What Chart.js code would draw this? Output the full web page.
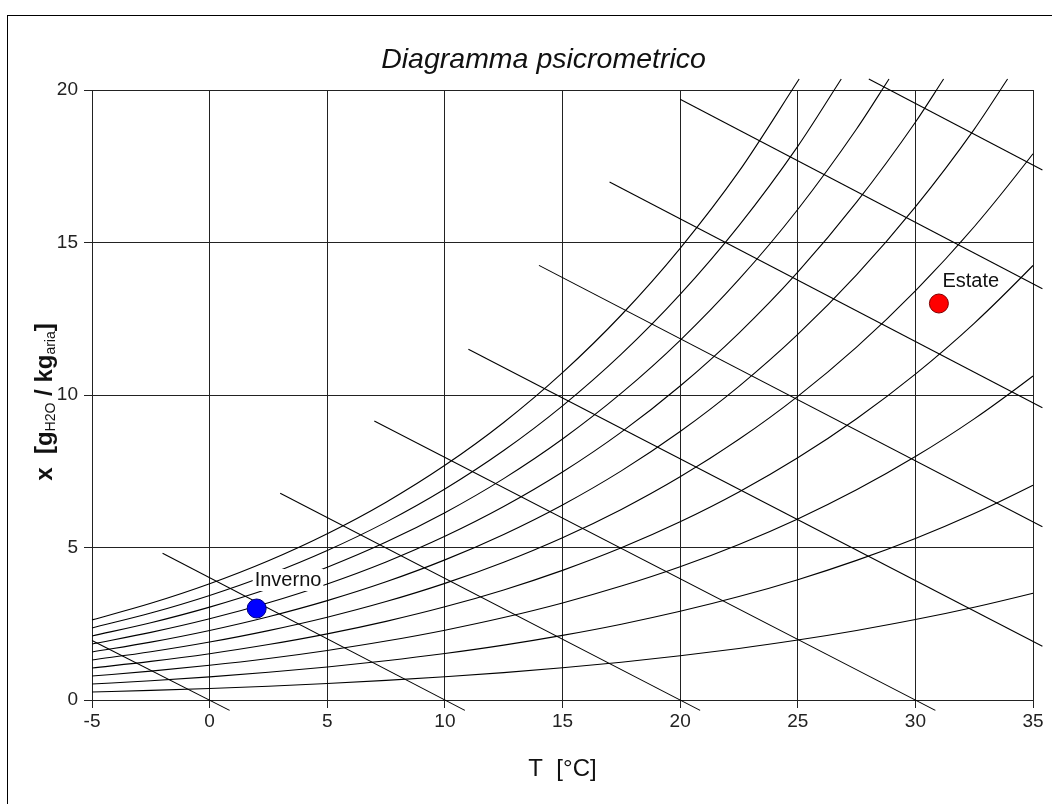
<!DOCTYPE html>
<html><head><meta charset="utf-8">
<script src="https://cdn.jsdelivr.net/npm/chart.js@4.4.1/dist/chart.umd.min.js"></script>
<style>html,body{margin:0;padding:0;background:#fff;}#wrap{width:1052px;height:804px;}</style>
</head><body><div id="wrap"><canvas id="c" width="1052" height="804"></canvas></div>
<script>
// ---- data ----
const tempGrid = [-5,-2.5,0,2.5,5,7.5,10,12.5,15,17.5,20,22.5,25,27.5,30,32.5,35,35.4];
const rh10 = [0.262,0.315,0.379,0.453,0.541,0.642,0.762,0.898,1.057,1.240,1.450,1.691,1.966,2.281,2.638,3.043,3.502,3.581];
const rh20 = [0.523,0.631,0.759,0.908,1.083,1.287,1.524,1.799,2.118,2.485,2.907,3.391,3.945,4.578,5.298,6.116,7.044,7.203];
const rh30 = [0.786,0.947,1.138,1.362,1.625,1.932,2.289,2.703,3.182,3.735,4.370,5.101,5.937,6.892,7.981,9.218,10.624,10.867];
const rh40 = [1.048,1.265,1.519,1.818,2.169,2.579,3.055,3.609,4.250,4.989,5.841,6.819,7.941,9.223,10.686,12.351,14.246,14.573];
const rh50 = [1.311,1.581,1.900,2.275,2.714,3.227,3.824,4.518,5.321,6.249,7.318,8.547,9.957,11.572,13.415,15.516,17.909,18.322];
const rh60 = [1.574,1.898,2.281,2.731,3.259,3.876,4.594,5.429,6.396,7.513,8.802,10.284,11.986,13.937,16.167,18.711];
const rh70 = [1.836,2.216,2.662,3.189,3.806,4.527,5.367,6.343,7.475,8.783,10.294,12.031,14.028,16.321,18.943];
const rh80 = [2.100,2.533,3.045,3.647,4.353,5.178,6.141,7.259,8.557,10.059,11.792,13.788,16.083,18.721];
const rh90 = [2.363,2.851,3.428,4.106,4.902,5.832,6.917,8.178,9.643,11.338,13.297,15.554,18.153];
const rh100 = [2.627,3.170,3.811,4.565,5.451,6.486,7.695,9.100,10.733,12.623,14.809,17.330];
// end points of the curves that leave through the top
const rhTopT = [null,null,null,null,null,33.92,31.2,28.88,26.85,25.06];
const rhTopX = 20.36;

const enthalpyLevels = [0,10,20,30,40,50,60,70,80];
const enthStartT = [-5,-2,3,7,11,14,17,20,28.02];
const enthStartX = [1.95,4.81,6.78,9.15,11.50,14.25,16.98,19.70,20.36];
const enthEndT = [0.85,10.85,20.85,30.85,35.4,35.4,35.4,35.4,35.4];
const enthEndX = [-0.34,-0.34,-0.34,-0.34,1.76,5.68,9.58,13.48,17.38];

const pointNames = ['Inverno','Estate'];
const pointT = [2,31];
const pointX = [3,13];

const xTicks = [-5,0,5,10,15,20,25,30,35];
const yTicks = [0,5,10,15,20];

// ---- build datasets ----
const rhCurves = [rh10,rh20,rh30,rh40,rh50,rh60,rh70,rh80,rh90,rh100];
const datasets = [];
const pointColors = [['#0000ff','#000080'],['#ff0000','#800000']];
pointNames.forEach((n,i)=>{
  datasets.push({label:n,data:[{x:pointT[i],y:pointX[i]}],showLine:false,pointRadius:9.5,
    backgroundColor:pointColors[i][0],borderColor:pointColors[i][1],borderWidth:1,clip:false,order:-1});
});
rhCurves.forEach((arr,i)=>{
  const pts = arr.map((v,k)=>({x:tempGrid[k],y:v}));
  if (rhTopT[i] !== null) pts.push({x:rhTopT[i],y:rhTopX});
  datasets.push({label:'UR '+((i+1)*10)+'%',data:pts,showLine:true,borderColor:'#000',borderWidth:1.1,
    pointRadius:0,cubicInterpolationMode:'monotone',clip:false,fill:false,order:1});
});
enthalpyLevels.forEach((h,i)=>{
  datasets.push({label:'h '+h,data:[{x:enthStartT[i],y:enthStartX[i]},{x:enthEndT[i],y:enthEndX[i]}],
    showLine:true,borderColor:'#000',borderWidth:1.1,pointRadius:0,clip:false,fill:false,order:1});
});

const FONT = "'Liberation Sans', Arial, sans-serif";
const labelOffsets = [[-2,-28.5],[3.5,-22]];

const decorPlugin = {
  id:'decor',
  beforeDraw(chart){
    const ctx = chart.ctx;
    ctx.save();
    ctx.fillStyle='#fff'; ctx.fillRect(0,0,chart.width,chart.height);
    ctx.strokeStyle='#000'; ctx.lineWidth=1;
    ctx.strokeRect(7.5,15.5,1100,900);
    ctx.restore();
  },
  afterDatasetsDraw(chart){
    const ctx = chart.ctx, xs = chart.scales.x, ys = chart.scales.y;
    ctx.save();
    ctx.font = '20px '+FONT;
    ctx.textBaseline='middle';
    pointNames.forEach((n,i)=>{
      const px = xs.getPixelForValue(pointT[i]), py = ys.getPixelForValue(pointX[i]);
      const w = ctx.measureText(n).width;
      const lx = px+labelOffsets[i][0], ly = py+labelOffsets[i][1];
      ctx.fillStyle='#fff'; ctx.fillRect(lx-2,ly-11,w+4,22);
      ctx.fillStyle='#111'; ctx.textAlign='left'; ctx.fillText(n,lx,ly);
    });
    ctx.restore();
  },
  afterDraw(chart){
    const ctx = chart.ctx;
    const parts = [['x  [g',24,0,true],['H2O',14,3,false],[' / kg',24,0,true],['aria',14,3,false],[']',24,0,true]];
    ctx.save();
    ctx.translate(44, 402);
    ctx.rotate(-Math.PI/2);
    const fontOf = p => (p[3]?'bold ':'')+p[1]+'px '+FONT;
    let total = 0;
    parts.forEach(p=>{ctx.font=fontOf(p); total += ctx.measureText(p[0]).width;});
    let x = -total/2;
    ctx.fillStyle='#111'; ctx.textBaseline='alphabetic'; ctx.textAlign='left';
    parts.forEach(p=>{ctx.font=fontOf(p); ctx.fillText(p[0],x,8+p[2]); x+=ctx.measureText(p[0]).width;});
    ctx.restore();
  }
};

new Chart(document.getElementById('c'),{
  type:'scatter',
  data:{datasets},
  options:{
    responsive:false,animation:false,
    layout:{padding:{left:54,right:19,top:0,bottom:0}},
    plugins:{
      legend:{display:false},tooltip:{enabled:false},
      title:{display:true,text:'Diagramma psicrometrico',color:'#111',
        font:{family:FONT,size:28.5,style:'italic',weight:'normal',lineHeight:1.2},padding:{top:43,bottom:12.8}}
    },
    scales:{
      x:{type:'linear',min:-5,max:35,
        afterFit(s){s.height=104;},
        afterBuildTicks(s){s.ticks=xTicks.map(v=>({value:v}));},
        grid:{color:'#222',lineWidth:1,tickLength:8,drawTicks:true},
        border:{color:'#222',width:1},
        ticks:{color:'#222',font:{family:FONT,size:19},padding:2,maxRotation:0},
        title:{display:true,text:'T  [°C]',color:'#111',font:{family:FONT,size:24},padding:{top:0,bottom:20}}
      },
      y:{type:'linear',min:0,max:20,
        afterFit(s){s.width=38;},
        afterBuildTicks(s){s.ticks=yTicks.map(v=>({value:v}));},
        grid:{color:'#222',lineWidth:1,tickLength:8,drawTicks:true},
        border:{color:'#222',width:1},
        ticks:{color:'#222',font:{family:FONT,size:19},padding:6}
      }
    }
  },
  plugins:[decorPlugin]
});
</script></body></html>
